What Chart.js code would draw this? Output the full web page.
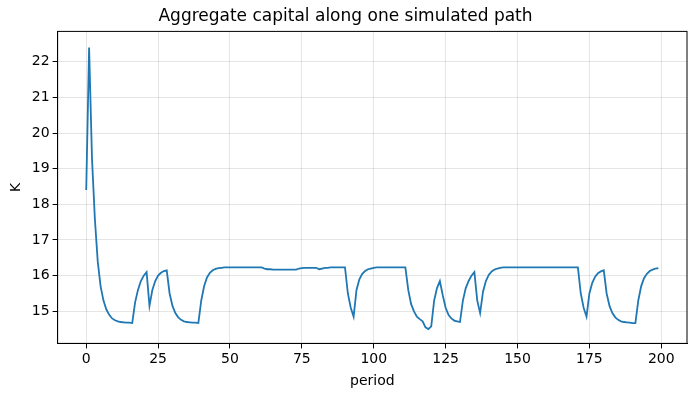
<!DOCTYPE html><html><head><script src="https://cdn.jsdelivr.net/npm/chart.js"></script>
<style>body{margin:0;background:#fff}#w{width:694px;height:402px}</style></head><body><div id="w"><canvas id="c"></canvas></div>
<script>
const K=[18.4,22.4,19.3,17.6,16.4,15.7,15.3,15.05,14.9,14.8,14.75,14.72,14.7,14.69,14.68,14.68,14.67,
15.25,15.6,15.85,16.0,16.1,15.15,15.6,15.85,16.0,16.08,16.13,16.15,15.5,15.15,14.95,14.83,14.76,14.72,14.7,14.69,14.68,14.68,14.67,
15.3,15.7,15.95,16.08,16.15,16.19,16.21,16.22,16.23,16.23,16.23,16.23,16.23,16.23,16.23,16.23,16.23,16.23,16.23,16.23,16.23,16.23,
16.2,16.18,16.18,16.17,16.17,16.17,16.17,16.17,16.17,16.17,16.17,16.17,16.2,16.21,16.22,16.22,16.22,16.22,16.22,16.18,16.2,
16.22,16.22,16.23,16.23,16.23,16.23,16.23,16.23,15.5,15.1,14.85,15.6,15.9,16.05,16.13,16.18,16.2,
16.22,16.23,16.23,16.23,16.23,16.23,16.23,16.23,16.23,16.23,16.23,16.23,15.6,15.2,15.0,14.85,14.78,14.72,14.55,14.5,14.58,
15.3,15.65,15.85,15.45,15.1,14.9,14.8,14.74,14.72,14.7,15.3,15.65,15.85,16.0,16.1,15.3,14.95,15.55,15.85,16.02,16.12,16.17,16.2,16.22,
16.23,16.23,16.23,16.23,16.23,16.23,16.23,16.23,16.23,16.23,16.23,16.23,16.23,16.23,16.23,16.23,16.23,16.23,16.23,16.23,16.23,16.23,16.23,16.23,16.23,16.23,16.23,
15.5,15.1,14.85,15.5,15.8,15.97,16.07,16.12,16.15,15.5,15.15,14.95,14.83,14.76,14.72,14.7,14.69,14.68,14.67,14.67,
15.3,15.7,15.93,16.05,16.13,16.17,16.2,16.21];
const periods=K.map((_,i)=>i);
const xTicks=[0,25,50,75,100,125,150,175,200];
const yTicks=[15,16,17,18,19,20,21,22];
const f="'DejaVu Sans'";
new Chart(document.getElementById('c'),{type:'line',
data:{datasets:[{data:periods.map((p,i)=>({x:p,y:K[i]})),borderColor:'#1f77b4',borderWidth:1.8,pointRadius:0,tension:0}]},
options:{responsive:true,maintainAspectRatio:false,animation:false,
layout:{padding:{left:4,right:7,top:4,bottom:8}},
plugins:{legend:{display:false},title:{display:true,text:'Aggregate capital along one simulated path',color:'#000',font:{family:f,size:17,weight:'normal'},padding:{top:2,bottom:5}}},
scales:{
x:{type:'linear',min:-9.95,max:208.95,afterBuildTicks:a=>{a.ticks=xTicks.map(v=>({value:v}))},
title:{display:true,text:'period',color:'#000',font:{family:f,size:14},padding:{top:2}},
ticks:{color:'#000',font:{family:f,size:14},maxRotation:0},grid:{color:'rgba(0,0,0,0.1)',tickColor:'#000',tickLength:5},border:{color:'#000'}},
y:{min:14.1,max:22.85,afterBuildTicks:a=>{a.ticks=yTicks.map(v=>({value:v}))},
title:{display:true,text:'K',color:'#000',font:{family:f,size:14}},
ticks:{color:'#000',font:{family:f,size:14}},grid:{color:'rgba(0,0,0,0.1)',tickColor:'#000',tickLength:5},border:{color:'#000'}}}},
plugins:[{id:'box',afterDraw(c){const a=c.chartArea,x=c.ctx;x.save();x.strokeStyle='#000';x.lineWidth=1;x.strokeRect(a.left,a.top,a.right-a.left,a.bottom-a.top);x.restore();}}]
});
</script></body></html>
